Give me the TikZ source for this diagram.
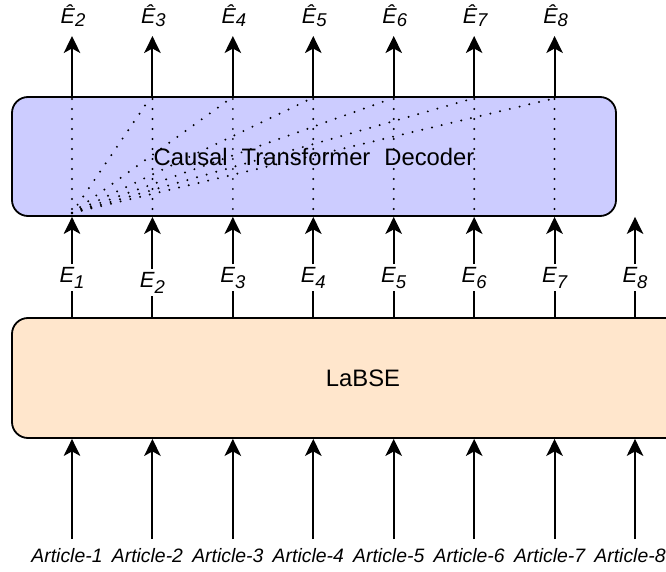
\documentclass[tikz,border=0pt]{standalone}
\usepackage{fontspec}
\setmainfont{Liberation Sans}
\usetikzlibrary{arrows.meta}
\definecolor{decfill}{RGB}{204,204,255}
\definecolor{encfill}{RGB}{255,230,204}
% lowered subscript digit
\newcommand{\lowsub}[2]{\raisebox{-#1}{\fontsize{18.5}{22}\selectfont #2}}
\begin{document}
\begin{tikzpicture}[x=1pt,y=-1pt,
  arr/.style={line width=2pt,-{Stealth[length=17pt,width=16.5pt,inset=4.5pt]}},
  stem/.style={line width=2pt},
  block/.style={draw,line width=1.8pt,rounded corners=16pt,inner sep=0pt,
    font=\fontsize{23.8}{28}\selectfont},
  attn/.style={line width=2.2pt,line cap=round,dash pattern=on 0pt off 10pt},
  artlbl/.style={anchor=base,inner sep=0pt,font=\fontsize{19.4}{23}\selectfont\itshape},
  emblbl/.style={anchor=base,inner xsep=0pt,inner ysep=2.5pt,font=\fontsize{22}{26}\selectfont\itshape},
  hatlbl/.style={anchor=base,inner sep=0pt,font=\fontsize{21.5}{25}\selectfont\itshape},
]
\useasboundingbox (0,0) rectangle (666,572);
\clip (0,0) rectangle (666,572);

% the two blocks
\node[block,fill=decfill,minimum width=604pt,minimum height=119pt] (dec) at (314,156.5)
  {Causal\hspace{14pt}Transformer\hspace{14pt}Decoder};
\node[block,fill=encfill,minimum width=702pt,minimum height=120pt] (enc) at (363,378) {LaBSE};

% causal attention pattern inside the decoder
\foreach \i in {1,...,7}{
  \pgfmathsetmacro{\x}{72+80.43*(\i-1)}
  \draw[attn] (\x,99) -- (\x,214);
}
\foreach \i in {2,...,7}{
  \pgfmathsetmacro{\x}{72+80.43*(\i-1)-3}
  \draw[attn] (72,213) -- (\x,99);
}

% decoder outputs
\foreach \i in {1,...,7}{
  \pgfmathsetmacro{\x}{72+80.43*(\i-1)}
  \pgfmathtruncatemacro{\j}{\i+1}
  \coordinate (t\i) at (\x,36);
  \node[hatlbl] (h\i) at (\x+1,24) {Ê\lowsub{3pt}{\j}};
  \draw[arr] (dec.north -| t\i) -- (t\i);
}

% sentence embeddings
\foreach \i/\dy in {1/0,2/5,3/0,4/0,5/0,6/0,7/0,8/0}{
  \pgfmathsetmacro{\x}{72+80.43*(\i-1)}
  \node[emblbl] (e\i) at (\x,282+\dy) {E\lowsub{6pt}{\i}};
  \draw[stem] (enc.north -| e\i) -- (e\i.south);
  \draw[arr] (e\i.north) -- (e\i.north |- dec.south);
}

% input articles
\foreach \i in {1,...,8}{
  \pgfmathsetmacro{\x}{72+80.43*(\i-1)}
  \node[artlbl] (a\i) at (\x-5,562) {Article-\i};
  \coordinate (s\i) at (\x,539);
  \draw[arr] (s\i) -- (s\i |- enc.south);
}
\end{tikzpicture}
\end{document}
